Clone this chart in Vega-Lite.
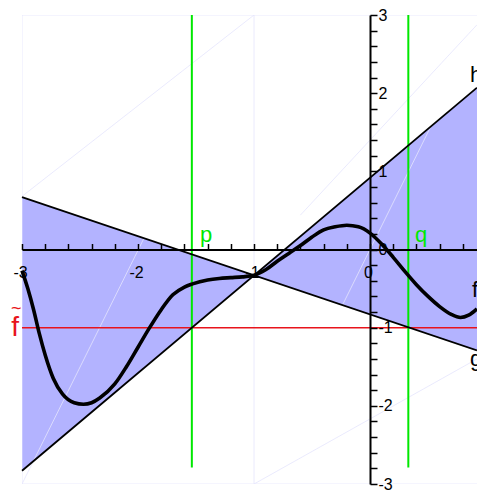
{
  "$schema": "https://vega.github.io/schema/vega-lite/v6.json",
  "width": 455,
  "height": 469,
  "autosize": {"type": "none"},
  "padding": {"left": 22, "top": 15, "right": 0, "bottom": 10},
  "background": "white",
  "config": {
    "view": {"stroke": null},
    "text": {"font": "Liberation Sans"}
  },
  "datasets": {
    "cone": [
      {"x": -3, "y": -2.83, "y2": 0.67},
      {"x": -1, "y": -0.33, "y2": -0.33},
      {"x": 0.922, "y": 2.07, "y2": -1.29}
    ],
    "guides": [
      {"x": -3, "y": 3, "x2": 0.922, "y2": 3},
      {"x": -3, "y": -3, "x2": 0.922, "y2": -3},
      {"x": -3, "y": -3, "x2": -3, "y2": 3},
      {"x": -1, "y": -3, "x2": -1, "y2": 3},
      {"x": -3, "y": -3, "x2": -1.95, "y2": 0.14},
      {"x": -3, "y": 0.68, "x2": -1, "y2": 3},
      {"x": -1, "y": -3, "x2": 0.922, "y2": -1.4},
      {"x": -0.237, "y": -0.71, "x2": 0.526, "y2": 1.58},
      {"x": -0.6, "y": 0.44, "x2": 0.922, "y2": 2.875}
    ],
    "level": [{"x": -3, "x2": 0.922, "y": -1}],
    "bounds": [
      {"x": -1.536, "y": -2.79, "y2": 3},
      {"x": 0.33, "y": -2.79, "y2": 3}
    ],
    "lines": [
      {"name": "h", "x": -3, "y": -2.83, "x2": 0.922, "y2": 2.07},
      {"name": "g", "x": -3, "y": 0.67, "x2": 0.922, "y2": -1.29}
    ],
    "curve": [
      {"x": -3.0, "y": -0.27},
      {"x": -2.95, "y": -0.5},
      {"x": -2.9, "y": -0.77},
      {"x": -2.85, "y": -1.08},
      {"x": -2.8, "y": -1.35},
      {"x": -2.73, "y": -1.65},
      {"x": -2.65, "y": -1.85},
      {"x": -2.55, "y": -1.96},
      {"x": -2.47, "y": -1.98},
      {"x": -2.4, "y": -1.96},
      {"x": -2.33, "y": -1.9},
      {"x": -2.2, "y": -1.72},
      {"x": -2.1, "y": -1.5},
      {"x": -2.0, "y": -1.25},
      {"x": -1.9, "y": -1.0},
      {"x": -1.8, "y": -0.77},
      {"x": -1.7, "y": -0.58},
      {"x": -1.6, "y": -0.48},
      {"x": -1.53, "y": -0.44},
      {"x": -1.4, "y": -0.39},
      {"x": -1.3, "y": -0.37},
      {"x": -1.2, "y": -0.36},
      {"x": -1.1, "y": -0.35},
      {"x": -1.0, "y": -0.33},
      {"x": -0.9, "y": -0.26},
      {"x": -0.8, "y": -0.15},
      {"x": -0.7, "y": -0.05},
      {"x": -0.6, "y": 0.05},
      {"x": -0.5, "y": 0.16},
      {"x": -0.4, "y": 0.25},
      {"x": -0.3, "y": 0.29},
      {"x": -0.2, "y": 0.31},
      {"x": -0.1, "y": 0.29},
      {"x": 0.0, "y": 0.21},
      {"x": 0.1, "y": 0.07},
      {"x": 0.2, "y": -0.1},
      {"x": 0.3, "y": -0.28},
      {"x": 0.4, "y": -0.45},
      {"x": 0.5, "y": -0.6},
      {"x": 0.6, "y": -0.73},
      {"x": 0.7, "y": -0.83},
      {"x": 0.78, "y": -0.87},
      {"x": 0.85, "y": -0.84},
      {"x": 0.922, "y": -0.76}
    ],
    "blackLabels": [
      {"x": 0.862, "y": 2.14, "label": "h"},
      {"x": 0.879, "y": -0.61, "label": "f"},
      {"x": 0.862, "y": -1.49, "label": "g"}
    ],
    "greenLabels": [
      {"x": -1.466, "y": 0.096, "label": "p"},
      {"x": 0.388, "y": 0.096, "label": "q"}
    ],
    "redLabel": [{"x": -3.06, "y": -1.107, "label": "f"}],
    "redTilde": [{"x": -3.05, "y": -0.76, "label": "~"}]
  },
  "encoding": {
    "x": {
      "field": "x",
      "type": "quantitative",
      "scale": {"domain": [-3, 0.922], "nice": false, "zero": false},
      "axis": {
        "orient": "bottom",
        "offset": -234.5,
        "title": null,
        "grid": false,
        "zindex": 1,
        "domainColor": "black",
        "domainWidth": 2,
        "tickColor": "black",
        "tickWidth": 1.5,
        "tickSize": -6,
        "values": [-3, -2.8, -2.6, -2.4, -2.2, -2, -1.8, -1.6, -1.4, -1.2, -1, -0.8, -0.6, -0.4, -0.2, 0, 0.2, 0.4, 0.6, 0.8],
        "labelExpr": "abs(datum.value - round(datum.value)) < 0.01 ? '' + round(datum.value) : ''",
        "labelFont": "Liberation Sans",
        "labelFontSize": 16,
        "labelColor": "black",
        "labelPadding": 21,
        "labelFlush": false,
        "labelOverlap": false,
        "labelOffset": -2
      }
    },
    "y": {
      "field": "y",
      "type": "quantitative",
      "scale": {"domain": [-3, 3], "nice": false, "zero": false},
      "axis": {
        "orient": "right",
        "offset": -107,
        "title": null,
        "grid": false,
        "zindex": 1,
        "domainColor": "black",
        "domainWidth": 2,
        "tickColor": "black",
        "tickWidth": 1.5,
        "tickSize": 7,
        "values": [-3, -2.8, -2.6, -2.4, -2.2, -2, -1.8, -1.6, -1.4, -1.2, -1, -0.8, -0.6, -0.4, -0.2, 0, 0.2, 0.4, 0.6, 0.8, 1, 1.2, 1.4, 1.6, 1.8, 2, 2.2, 2.4, 2.6, 2.8, 3],
        "labelExpr": "abs(datum.value - round(datum.value)) < 0.01 ? '' + round(datum.value) : ''",
        "labelFont": "Liberation Sans",
        "labelFontSize": 16,
        "labelColor": "black",
        "labelPadding": 1,
        "labelAlign": "left",
        "labelBaseline": "middle",
        "labelFlush": false,
        "labelOverlap": false
      }
    }
  },
  "layer": [
    {
      "data": {"name": "cone"},
      "mark": {"type": "area", "color": "#b3b3ff", "opacity": 1},
      "encoding": {"y2": {"field": "y2"}}
    },
    {
      "data": {"name": "guides"},
      "mark": {"type": "rule", "color": "#e4e4fc", "strokeWidth": 0.8, "clip": true},
      "encoding": {"x2": {"field": "x2"}, "y2": {"field": "y2"}}
    },
    {
      "data": {"name": "level"},
      "mark": {"type": "rule", "color": "#e8141c", "strokeWidth": 1.5},
      "encoding": {"x2": {"field": "x2"}}
    },
    {
      "data": {"name": "bounds"},
      "mark": {"type": "rule", "color": "#00e800", "strokeWidth": 2},
      "encoding": {"y2": {"field": "y2"}}
    },
    {
      "data": {"name": "lines"},
      "mark": {"type": "rule", "color": "black", "strokeWidth": 1.8},
      "encoding": {"x2": {"field": "x2"}, "y2": {"field": "y2"}}
    },
    {
      "data": {"name": "curve"},
      "mark": {"type": "line", "color": "black", "strokeWidth": 3.6, "interpolate": "monotone"},
      "encoding": {}
    },
    {
      "data": {"name": "blackLabels"},
      "mark": {"type": "text", "color": "black", "fontSize": 22, "align": "left", "baseline": "alphabetic"},
      "encoding": {"text": {"field": "label"}}
    },
    {
      "data": {"name": "greenLabels"},
      "mark": {"type": "text", "color": "#00e800", "fontSize": 22, "align": "left", "baseline": "alphabetic"},
      "encoding": {"text": {"field": "label"}}
    },
    {
      "data": {"name": "redLabel"},
      "mark": {"type": "text", "color": "#e8141c", "fontSize": 28, "align": "center", "baseline": "alphabetic"},
      "encoding": {"text": {"field": "label"}}
    },
    {
      "data": {"name": "redTilde"},
      "mark": {"type": "text", "color": "#e8141c", "fontSize": 18, "align": "center", "baseline": "middle"},
      "encoding": {"text": {"field": "label"}}
    }
  ]
}
